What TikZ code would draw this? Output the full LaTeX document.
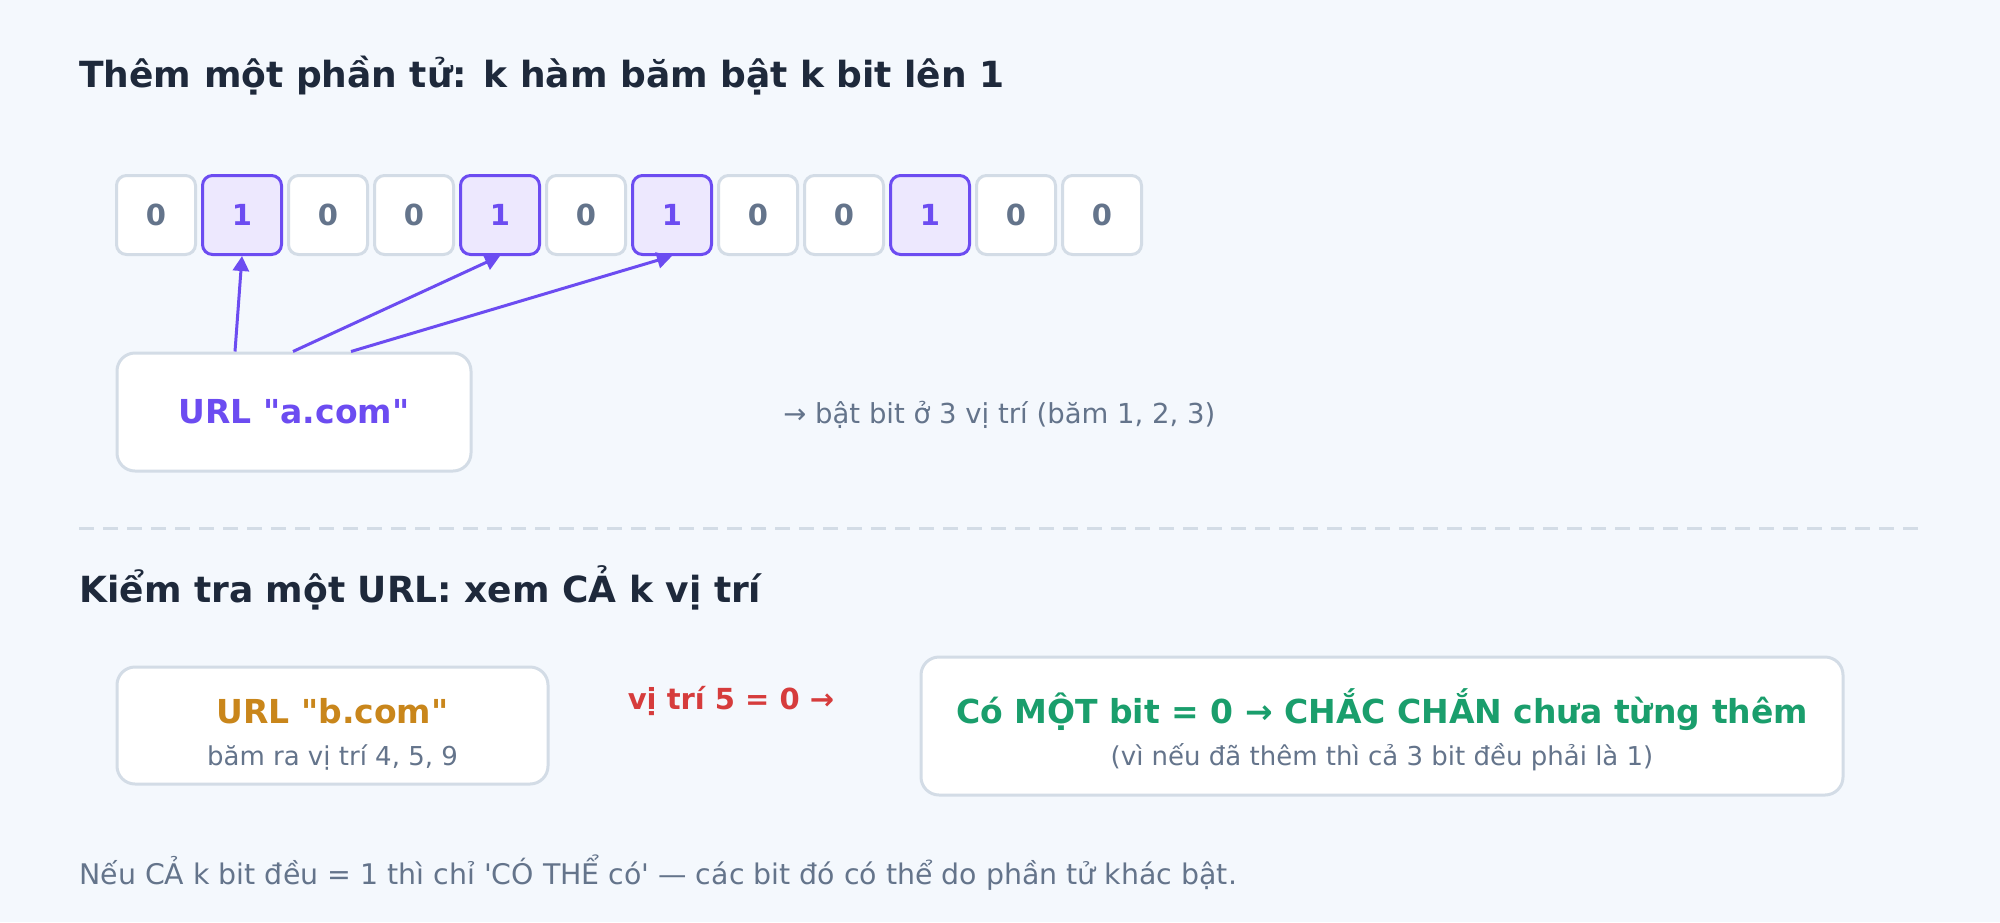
\documentclass[tikz,border=0pt]{standalone}
\usepackage{fontspec}
\setmainfont{DejaVu Sans}
\usetikzlibrary{positioning,arrows.meta}

\definecolor{pagebg}{HTML}{F4F8FD}
\definecolor{ink}{HTML}{1E293B}
\definecolor{muted}{HTML}{64748B}
\definecolor{edge}{HTML}{D3DCE6}
\definecolor{hashpurple}{HTML}{6C4CF1}
\definecolor{amber}{HTML}{C9861B}
\definecolor{alertred}{HTML}{D63C3C}
\definecolor{safegreen}{HTML}{1A9E6C}
\definecolor{bitline0}{HTML}{D3DCE6}
\definecolor{bitline1}{HTML}{6C4CF1}
\definecolor{bitfill0}{HTML}{FFFFFF}
\definecolor{bitfill1}{HTML}{EDE8FE}
\definecolor{bittext0}{HTML}{64748B}
\definecolor{bittext1}{HTML}{6C4CF1}

\tikzset{
    heading/.style={anchor=base west, inner sep=0pt, text=ink, font=\fontsize{18}{22}\selectfont\bfseries},
    note/.style={inner sep=0pt, text=muted, font=\fontsize{13}{16}\selectfont},
    boxhead/.style={anchor=base, inner sep=0pt, font=\fontsize{16.5}{20}\selectfont\bfseries},
    bitcell/.style={rounded corners=5pt, line width=1.5pt, minimum width=39.5pt, minimum height=39.5pt, inner sep=0pt, font=\fontsize{14.5}{17}\selectfont\bfseries},
    card/.style={draw=edge, fill=white, line width=1.5pt, rounded corners=9pt, inner sep=0pt},
    hashline/.style={draw=hashpurple, line width=1.5pt, -{Triangle[length=7.5pt,width=8pt]}}
}

\begin{document}
\begin{tikzpicture}[x=0.5pt, y=-0.5pt]
    \fill[pagebg] (0,0) rectangle (2000,922);

    \node[heading] at (79, 87) (addtitle) {Thêm một phần tử: k hàm băm bật k bit lên 1};

    \foreach \b [count=\i from 0] in {0,1,0,0,1,0,1,0,0,1,0,0}
    {
        \node[bitcell, draw=bitline\b, fill=bitfill\b, text=bittext\b] at (156+86*\i, 215) (c\i) {\b};
    }

    \node[card, minimum width=177pt, minimum height=59pt, text=hashpurple, font=\fontsize{16.5}{20}\selectfont\bfseries] at (294, 412) (urla) {URL \textquotedbl a.com\textquotedbl};

    \draw[hashline] ([xshift=-29.5pt]urla.north) -- (c1.south);
    \draw[hashline] ([xshift=-0.5pt]urla.north) -- (c4.south);
    \draw[hashline] ([xshift=28.5pt]urla.north) -- (c6.south);

    \node[note, anchor=base west, font=\fontsize{13.75}{16}\selectfont] at (783, 423) (hashnote) {→ bật bit ở 3 vị trí (băm 1, 2, 3)};

    \draw[edge, line width=1.5pt, dash pattern=on 7.5pt off 4.5pt] (79,528) -- (1923,528);

    \node[heading] at (79, 602) (checktitle) {Kiểm tra một URL: xem CẢ k vị trí};

    \node[card, minimum width=215.5pt, minimum height=58.5pt] at (332.5, 725.5) (urlb) {};
    \node[boxhead, text=amber] at (332.5, 723) (urlbname) {URL \textquotedbl b.com\textquotedbl};
    \node[note, anchor=base] at (332.5, 765) (urlbhash) {băm ra vị trí 4, 5, 9};

    \node[boxhead, text=alertred, font=\fontsize{14.5}{17}\selectfont\bfseries] at (731, 709) (zerobit) {vị trí 5 = 0 →};

    \node[card, minimum width=461pt, minimum height=69pt] at (1382, 726) (verdict) {};
    \node[boxhead, text=safegreen] at (1382, 723) (verdictmain) {Có MỘT bit = 0 → CHẮC CHẮN chưa từng thêm};
    \node[note, anchor=base] at (1382, 765) (verdictwhy) {(vì nếu đã thêm thì cả 3 bit đều phải là 1)};

    \node[note, anchor=base west, font=\fontsize{14.2}{17}\selectfont] at (79, 884) (footnote) {Nếu CẢ k bit đều = 1 thì chỉ \textquotesingle CÓ THỂ có\textquotesingle{} — các bit đó có thể do phần tử khác bật.};

\end{tikzpicture}
\end{document}
